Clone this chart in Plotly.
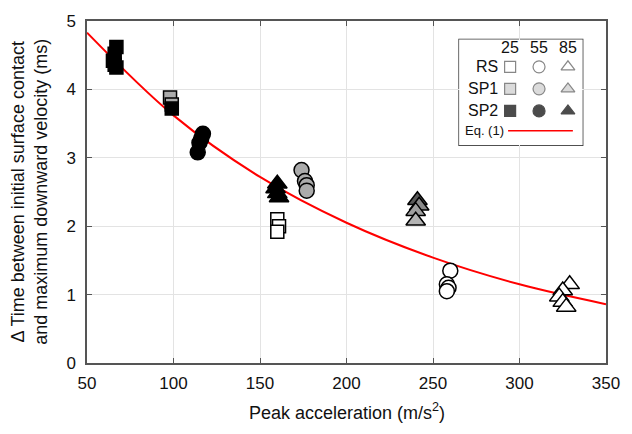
import plotly.graph_objects as go

# ---- data ----
rs_sq_x = [160, 161, 160]
rs_sq_y = [2.10, 2.00, 1.92]
sp1_sq_x = [98, 99]
sp1_sq_y = [3.88, 3.78]
sp2_sq_x = [67, 66, 65, 66, 67, 99]
sp2_sq_y = [4.62, 4.52, 4.42, 4.36, 4.32, 3.72]

rs_ci_x = [260, 258, 259, 258]
rs_ci_y = [1.35, 1.15, 1.10, 1.05]
sp1_ci_x = [174, 176, 177, 177]
sp1_ci_y = [2.82, 2.66, 2.60, 2.52]
sp2_ci_x = [117, 116, 115, 114]
sp2_ci_y = [3.35, 3.28, 3.22, 3.08]

rs_tr_x = [329, 325, 323, 325, 327]
rs_tr_y = [1.15, 1.06, 0.97, 0.89, 0.82]
sp1_tr_x = [241, 242, 240, 240]
sp1_tr_y = [2.38, 2.30, 2.22, 2.08]
sp1_tr_fill = ["#5a5a5a", "#8a8a8a", "#a0a0a0", "#b4b4b4"]
sp2_tr_x = [160, 159, 160, 161]
sp2_tr_y = [2.62, 2.55, 2.48, 2.42]

eq_x = [50, 100, 150, 200, 250, 300, 350]
eq_y = [4.83, 3.62, 2.72, 2.05, 1.54, 1.15, 0.86]

x_ticks = [50, 100, 150, 200, 250, 300, 350]
y_ticks = [0, 1, 2, 3, 4, 5]

legend_cols = ["25", "55", "85"]
legend_rows = ["RS", "SP1", "SP2"]

FONT = "Liberation Sans, Arial, sans-serif"
WHITE, GRAY, BLACK = "white", "#ababab", "black"

fig = go.Figure()

fig.add_trace(go.Scatter(x=eq_x, y=eq_y, mode="lines", line=dict(color="red", width=2, shape="spline"),
                         hoverinfo="skip", showlegend=False))

def add_pts(x, y, symbol, fill, size):
    fig.add_trace(go.Scatter(x=x, y=y, mode="markers", showlegend=False,
                             marker=dict(symbol=symbol, size=size, color=fill,
                                         line=dict(color="black", width=1.5))))

add_pts(sp1_sq_x, sp1_sq_y, "square", GRAY, 13)
add_pts(sp2_sq_x, sp2_sq_y, "square", BLACK, 13)
add_pts(rs_sq_x, rs_sq_y, "square", WHITE, 13)
add_pts(sp2_ci_x, sp2_ci_y, "circle", BLACK, 15)
add_pts(sp1_ci_x, sp1_ci_y, "circle", GRAY, 15)
add_pts(rs_ci_x, rs_ci_y, "circle", WHITE, 15)
add_pts(sp2_tr_x, sp2_tr_y, "triangle-up", BLACK, 17)
add_pts(sp1_tr_x, sp1_tr_y, "triangle-up", sp1_tr_fill, 17)
add_pts(rs_tr_x, rs_tr_y, "triangle-up", WHITE, 17)

# ---- legend drawn on an overlay axis ----
leg_syms = ["square", "circle", "triangle-up"]
leg_fill = ["white", "#cccccc", "black"]
leg_line = ["#555555", "#555555", "black"]
for r, name in enumerate(legend_rows):
    fig.add_trace(go.Scatter(x=[0, 1, 2], y=[r, r, r], xaxis="x2", yaxis="y2", mode="markers",
                             showlegend=False, hoverinfo="skip",
                             marker=dict(symbol=leg_syms, size=[11, 12, 12], color=leg_fill[r],
                                         line=dict(color=leg_line[r], width=1.2))))
    fig.add_annotation(x=-0.35, y=r, xref="x2", yref="y2", text=name, showarrow=False,
                       xanchor="right", font=dict(family=FONT, size=16, color="#111"))
for c, lab in enumerate(legend_cols):
    fig.add_annotation(x=c, y=-0.88, xref="x2", yref="y2", text=lab, showarrow=False,
                       font=dict(family=FONT, size=16, color="#111"))
fig.add_trace(go.Scatter(x=[-0.07, 2.17], y=[2.9, 2.9], xaxis="x2", yaxis="y2", mode="lines",
                         line=dict(color="red", width=1.5), showlegend=False, hoverinfo="skip"))
fig.add_annotation(x=-1.62, y=2.9, xref="x2", yref="y2", text="Eq. (1)", showarrow=False,
                   xanchor="left", font=dict(family=FONT, size=13, color="#111"))

# axis titles
fig.add_annotation(xref="paper", yref="paper", x=-0.112, y=0.5, xanchor="center", yanchor="middle",
                   textangle=-90, showarrow=False,
                   text="\u0394 Time between initial surface contact<br>and maximum downward velocity (ms)",
                   font=dict(family=FONT, size=18, color="#111"))
fig.add_annotation(xref="paper", yref="paper", x=0.5, y=-0.143, xanchor="center", yanchor="middle",
                   showarrow=False, text="Peak acceleration (m/s<sup>2</sup>)",
                   font=dict(family=FONT, size=18, color="#111"))

axis_common = dict(showline=True, linecolor="#555", linewidth=1.5, mirror="ticks",
                   ticks="inside", ticklen=5, tickcolor="#555", showgrid=True,
                   gridcolor="#e3e3e3", gridwidth=1, zeroline=False,
                   tickfont=dict(family=FONT, size=17, color="#111"))

fig.update_layout(
    width=632, height=434,
    margin=dict(l=87, r=15, t=13, b=71),
    plot_bgcolor="white", paper_bgcolor="white",
    xaxis=dict(range=[50, 350], tickvals=x_ticks, ticklabelstandoff=4, **axis_common),
    yaxis=dict(range=[0, 5], tickvals=y_ticks, ticklabelstandoff=6, **axis_common),
    xaxis2=dict(domain=[0.717, 0.955], range=[-1.763, 2.508], visible=False, anchor="y2"),
    yaxis2=dict(domain=[0.637, 0.946], range=[3.556, -1.244], visible=False, anchor="x2"),
    shapes=[dict(type="rect", xref="x2 domain", yref="y2 domain", x0=0, x1=1, y0=0, y1=1,
                 line=dict(color="#333", width=1.5), fillcolor="white", layer="below")],
)

fig.write_html("out.html")
